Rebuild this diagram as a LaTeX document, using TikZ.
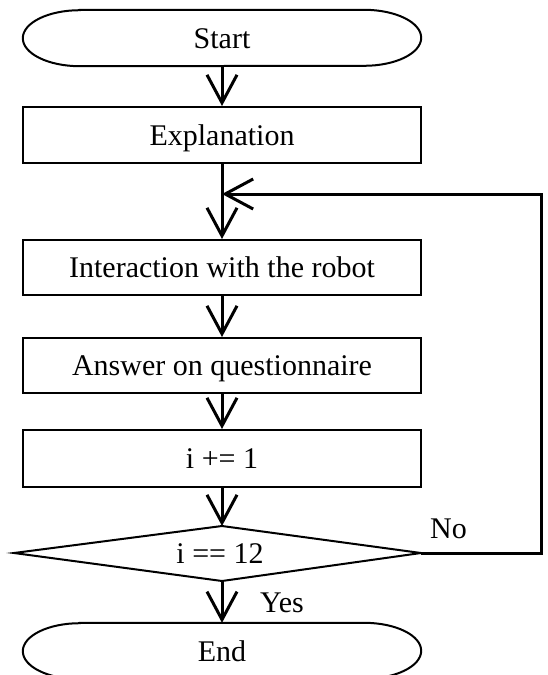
\documentclass[tikz,border=0pt]{standalone}
\usepackage{fontspec}
\setmainfont{Liberation Serif}
\usetikzlibrary{arrows.meta}
\begin{document}
\begin{tikzpicture}[x=1pt,y=1pt,
  boxline/.style={line width=2pt},
  flow/.style={line width=3pt, -{Straight Barb[length=28pt,width=30pt]}},
  txt/.style={inner sep=0pt, text height=20pt, text depth=0pt, font=\fontsize{30}{36}\selectfont},
  termnode/.style={txt, minimum width=398pt, minimum height=56pt},
  procbox/.style={txt, draw, line width=2pt, minimum width=398pt},
  lbl/.style={inner sep=0pt, anchor=base west, font=\fontsize{30}{36}\selectfont},
]
\useasboundingbox (0,0) rectangle (548,-675);
\clip (0,0) rectangle (548,-675);

% nodes
\node[termnode] (start) at (222,-38) {Start};
\node[procbox, minimum height=56pt] (expl) at (222,-135) {Explanation};
\node[procbox, minimum height=55pt] (inter) at (222,-267.5) {Interaction with the robot};
\node[procbox, minimum height=55pt] (answer) at (222,-365.5) {Answer on questionnaire};
\node[procbox, minimum height=57pt] (incr) at (222,-458.5) {i += 1};
\coordinate (dtop) at (222,-526);
\coordinate (dright) at (421,-553);
\coordinate (dbottom) at (222,-581);
\coordinate (dleft) at (14,-553);
\node[txt] (dec) at (220,-553) {i == 12};
\node[termnode] (end) at (222,-651) {End};

% terminator outlines
\foreach \n in {start,end}{
  \draw[boxline] ([xshift=57pt]\n.north west) -- ([xshift=-57pt]\n.north east)
    arc[start angle=90,end angle=-90,x radius=57pt,y radius=28pt]
    -- ([xshift=57pt]\n.south west)
    arc[start angle=270,end angle=90,x radius=57pt,y radius=28pt] -- cycle;
}
% decision outline
\draw[boxline, line join=miter] (dleft) -- (dtop) -- (dright) -- (dbottom) -- cycle;

% connectors
\coordinate (join) at (222,-194);
\draw[flow] (start.south) -- (expl.north);
\draw[flow] (expl.south) -- (inter.north);
\draw[flow] (inter.south) -- (answer.north);
\draw[flow] (answer.south) -- (incr.north);
\draw[flow] (incr.south) -- (dtop);
\draw[flow] (dbottom) -- (end.north);
\draw[flow, line join=miter] (dright) -- ++(120,0) |- (join);

% labels
\node[lbl] (no) at (430,-538) {No};
\node[lbl] (yes) at (260,-612) {Yes};
\end{tikzpicture}
\end{document}
